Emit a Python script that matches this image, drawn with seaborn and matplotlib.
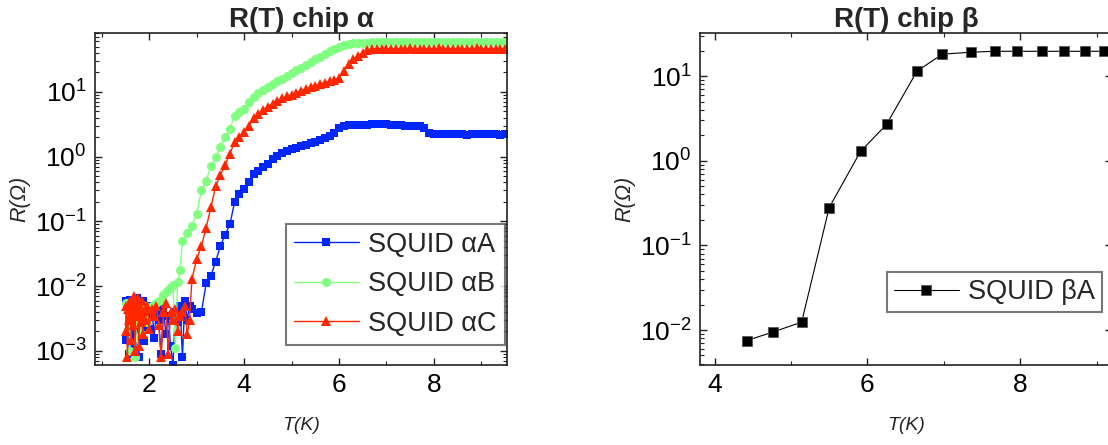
import numpy as np
import pandas as pd
import seaborn as sns
import matplotlib
matplotlib.use("Agg")
import matplotlib.pyplot as plt
from matplotlib.ticker import MultipleLocator, LogLocator, NullFormatter

# ---------------- data: chip alpha ----------------
# common temperature grid of the smooth part (2.9 K .. 9.5 K)
T_grid = [2.9, 3.0, 3.1, 3.2, 3.3, 3.4, 3.5, 3.6, 3.7, 3.8, 3.9, 4.0,
          4.1, 4.2, 4.3, 4.4, 4.5, 4.6, 4.7, 4.8, 4.9, 5.0, 5.1, 5.2, 5.3, 5.4,
          5.5, 5.6, 5.7, 5.8, 5.9, 6.0, 6.1, 6.2, 6.3, 6.4, 6.5, 6.6, 6.7, 6.8,
          6.9, 7.0, 7.1, 7.2, 7.3, 7.4, 7.5, 7.6, 7.7, 7.8, 7.9, 8.0, 8.1, 8.2,
          8.3, 8.4, 8.5, 8.6, 8.7, 8.8, 8.9, 9.0, 9.1, 9.2, 9.3, 9.4, 9.5]

# SQUID alpha A (low-T noisy part, then grid part)
T_A_low = [1.50, 1.52, 1.55, 1.58, 1.60, 1.63, 1.66, 1.69, 1.72, 1.75, 1.78, 1.81, 1.84, 1.87,
           1.90, 1.94, 1.98, 2.02, 2.06, 2.10, 2.15, 2.20, 2.25, 2.30, 2.35, 2.40, 2.45, 2.50,
           2.55, 2.60, 2.65, 2.70, 2.75, 2.80, 2.85]
R_A_low = [0.0060, 0.0015, 0.0048, 0.0009, 0.0062, 0.0030, 0.0012, 0.0055, 0.0020, 0.0065, 0.0008,
           0.0042, 0.0025, 0.0060, 0.0014, 0.0038, 0.0050, 0.0022, 0.0048, 0.0016, 0.0040, 0.0030,
           0.0009, 0.0045, 0.0018, 0.0035, 0.0012, 0.0006, 0.0040, 0.0028, 0.0050, 0.0008, 0.0060,
           0.0030, 0.0050]
R_A_grid = [0.0045, 0.0038, 0.0040, 0.0110, 0.0145, 0.024, 0.042, 0.062, 0.090, 0.20, 0.26, 0.32,
            0.40, 0.53, 0.60, 0.68, 0.78, 0.92, 1.02, 1.12, 1.22, 1.30, 1.38, 1.45, 1.53, 1.62,
            1.70, 1.82, 1.95, 2.07, 2.30, 2.75, 3.00, 3.05, 3.08, 3.10, 3.12, 3.13, 3.15, 3.18,
            3.22, 3.18, 3.12, 3.08, 3.05, 3.02, 3.00, 2.98, 2.95, 2.75, 2.30, 2.22, 2.21, 2.20,
            2.20, 2.21, 2.20, 2.20, 2.19, 2.20, 2.20, 2.21, 2.20, 2.20, 2.20, 2.19, 2.20]

# SQUID alpha B
T_B_low = [1.50, 1.53, 1.56, 1.59, 1.62, 1.65, 1.68, 1.71, 1.74, 1.77, 1.80, 1.83, 1.86, 1.89,
           1.92, 1.95, 2.00, 2.05, 2.10, 2.15, 2.20, 2.25, 2.30, 2.35, 2.40, 2.45, 2.50, 2.55,
           2.60, 2.65, 2.70, 2.80]
R_B_low = [0.0055, 0.0020, 0.0045, 0.0010, 0.0050, 0.0025, 0.0040, 0.0008, 0.0048, 0.0030,
           0.0052, 0.0018, 0.0045, 0.0035, 0.0050, 0.0028, 0.0045, 0.0050, 0.0052, 0.0055,
           0.0058, 0.0062, 0.0072, 0.0080, 0.0088, 0.0098, 0.0105, 0.0011,
           0.0115, 0.018, 0.050, 0.065]
R_B_grid = [0.085, 0.13, 0.30, 0.42, 0.72, 1.0, 1.4, 2.0, 2.7, 4.2, 4.8, 5.5,
            7.0, 8.4, 9.5, 10.5, 11.8, 13.0, 14.5, 16.0, 17.5, 19.5, 21.5, 23.5, 26.0, 29.0,
            32.0, 35.0, 38.0, 42.0, 46.0, 50.0, 53.0, 55.0, 56.0, 56.5, 57.0, 57.5, 58.0, 58.2,
            58.3, 58.3, 58.4, 58.4, 58.5, 58.5, 58.4, 58.5, 58.5, 58.6, 58.5, 58.5, 58.5, 58.6,
            58.5, 58.5, 58.6, 58.5, 58.5, 58.5, 58.6, 58.5, 58.5, 58.5, 58.6, 58.5, 58.5]

# SQUID alpha C
T_C_low = [1.50, 1.52, 1.54, 1.56, 1.58, 1.60, 1.62, 1.64, 1.66, 1.68, 1.70, 1.72, 1.74, 1.76,
           1.78, 1.80, 1.82, 1.84, 1.86, 1.88, 1.92, 1.96, 2.00, 2.05, 2.10, 2.15, 2.20, 2.25,
           2.30, 2.35, 2.40, 2.45, 2.50, 2.55, 2.60, 2.65, 2.70, 2.75, 2.80, 2.85]
R_C_low = [0.0020, 0.0050, 0.0008, 0.0045, 0.0030, 0.0060, 0.0015, 0.0050, 0.0025, 0.0070,
           0.0010, 0.0055, 0.0035, 0.0065, 0.0012, 0.0048, 0.0028, 0.0058, 0.0018, 0.0042,
           0.0030, 0.0050, 0.0022, 0.0045, 0.0035, 0.0050, 0.0025, 0.0008, 0.0040, 0.0055,
           0.0009, 0.0040, 0.0030, 0.0045, 0.0020, 0.0035, 0.0040, 0.0050, 0.0018, 0.0030]
R_C_grid = [0.013, 0.026, 0.042, 0.080, 0.165, 0.35, 0.52, 0.75, 1.1, 1.7, 2.0, 2.4, 3.0, 4.0,
            4.6, 5.3, 5.9, 6.6, 7.2, 7.9, 8.5, 9.0, 9.7, 10.4, 11.1, 11.8, 12.5, 13.2,
            13.9, 14.6, 15.2, 16.5, 21.0, 27.0, 32.0, 36.0, 40.0, 43.5, 46.0, 46.5, 46.5, 46.6,
            46.6, 46.5, 46.6, 46.6, 46.7, 46.6, 46.6, 46.5, 46.6, 46.6, 46.7, 46.6, 46.6, 46.6,
            46.6, 46.5, 46.6, 46.6, 46.7, 46.6, 46.6, 46.6, 46.5, 46.6, 46.6]

labels_alpha = ["SQUID \u03b1A", "SQUID \u03b1B", "SQUID \u03b1C"]

# ---------------- data: chip beta ----------------
T_beta = [4.42, 4.77, 5.14, 5.50, 5.91, 6.25, 6.65, 6.98, 7.35, 7.67, 7.96, 8.28, 8.57, 8.85, 9.09]
R_beta = [0.0075, 0.0095, 0.0124, 0.28, 1.29, 2.69, 11.5, 18.2, 19.2, 19.7, 19.7, 19.7, 19.7, 19.7, 19.7]
label_beta = "SQUID \u03b2A"

# ---------------- style ----------------
sns.set_theme(style="ticks")
plt.rcParams["font.family"] = ["Liberation Sans", "DejaVu Sans"]
plt.rcParams["mathtext.fontset"] = "custom"
plt.rcParams["mathtext.rm"] = "Liberation Sans"
plt.rcParams["mathtext.it"] = "Liberation Sans:italic"
plt.rcParams["axes.edgecolor"] = "#222222"
plt.rcParams["axes.linewidth"] = 1.2

fig = plt.figure(figsize=(11.08, 4.45), dpi=100)
axL = fig.add_axes([95 / 1108, 80 / 445, 412 / 1108, 332 / 445])
axR = fig.add_axes([700 / 1108, 80 / 445, 412 / 1108, 332 / 445])

colors = ["#0026ff", "#80ff80", "#ff2600"]
markers = ["s", "o", "^"]
msizes = [6.0, 6.5, 7.0]
series = [(T_A_low + T_grid, R_A_low + R_A_grid),
          (T_B_low + T_grid, R_B_low + R_B_grid),
          (T_C_low + T_grid, R_C_low + R_C_grid)]
for (tx, rx), c, m, ms, lab in zip(series, colors, markers, msizes, labels_alpha):
    df = pd.DataFrame({"T": tx, "R": rx})
    sns.lineplot(data=df, x="T", y="R", ax=axL, color=c, marker=m, markersize=ms,
                 markeredgewidth=0, linewidth=1.0, sort=False, estimator=None, label=lab)

dfb = pd.DataFrame({"T": T_beta, "R": R_beta})
sns.lineplot(data=dfb, x="T", y="R", ax=axR, color="black", marker="s", markersize=7,
             markeredgewidth=0.6, markeredgecolor="#555555", linewidth=0.8, sort=False,
             estimator=None, label=label_beta)

for ax in (axL, axR):
    ax.set_yscale("log")
    ax.xaxis.set_major_locator(MultipleLocator(2))
    ax.xaxis.set_minor_locator(MultipleLocator(1))
    ax.yaxis.set_minor_locator(LogLocator(base=10, subs=np.arange(2, 10), numticks=20))
    ax.yaxis.set_minor_formatter(NullFormatter())
    ax.tick_params(which="both", direction="in", top=True, right=True, colors="#222222",
                   labelcolor="black")
    ax.tick_params(which="major", length=5, width=1.0, labelsize=19, pad=6)
    ax.tick_params(which="minor", length=3, width=0.8)
    ax.set_xlabel("T(K)", fontsize=14, fontstyle="italic", labelpad=14)
    ax.set_ylabel("R(\u03a9)", fontsize=15.5, fontstyle="italic", labelpad=3)

axL.set_xlim(0.857, 9.54)
axL.set_ylim(6.06e-4, 81)
axR.set_xlim(3.81, 9.2)
axR.set_ylim(0.00386, 32.4)

axL.set_title("R(T) chip \u03b1", fontsize=20, fontweight="bold", pad=3)
axR.set_title("R(T) chip \u03b2", fontsize=20, fontweight="bold", pad=3)

legL = axL.legend(loc="lower right", bbox_to_anchor=(0.995, 0.06), fontsize=19.5,
                  frameon=True, fancybox=False, edgecolor="#555555", handlelength=2.4,
                  handletextpad=0.35, labelspacing=0.5, borderpad=0.3, borderaxespad=0)
legL.get_frame().set_linewidth(1.5)
legR = axR.legend(loc="lower right", bbox_to_anchor=(0.976, 0.16), fontsize=19.5,
                  frameon=True, fancybox=False, edgecolor="#555555", handlelength=2.4,
                  handletextpad=0.35, borderpad=0.25, borderaxespad=0)
legR.get_frame().set_linewidth(1.5)

fig.savefig("out.png", dpi=100)
